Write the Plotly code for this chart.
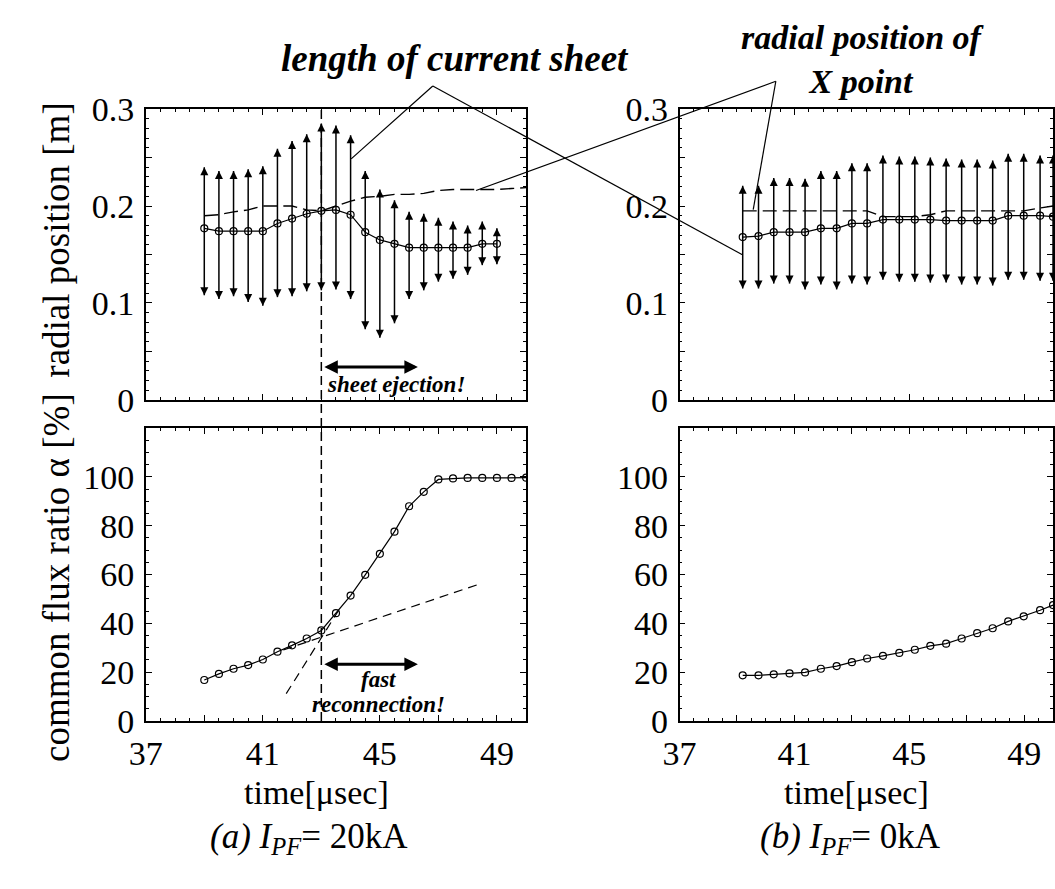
import plotly.graph_objects as go

W, H = 1055, 889
FONT = "Liberation Serif"

# ---------------- data ----------------
# (a) I_PF = 20 kA : radial position panel
time_a_top = [39.0, 39.5, 40.0, 40.5, 41.0, 41.5, 42.0, 42.5, 43.0, 43.5, 44.0,
              44.5, 45.0, 45.5, 46.0, 46.5, 47.0, 47.5, 48.0, 48.5, 49.0]
sheet_center_a = [0.177, 0.174, 0.174, 0.174, 0.174, 0.182, 0.187, 0.192, 0.195, 0.196, 0.191,
                  0.173, 0.165, 0.161, 0.157, 0.157, 0.157, 0.157, 0.157, 0.161, 0.161]
sheet_top_a = [0.240, 0.236, 0.236, 0.238, 0.241, 0.259, 0.267, 0.274, 0.285, 0.283, 0.273,
               0.236, 0.217, 0.206, 0.194, 0.192, 0.188, 0.184, 0.180, 0.184, 0.177]
sheet_bot_a = [0.108, 0.104, 0.107, 0.101, 0.097, 0.106, 0.107, 0.112, 0.113, 0.114, 0.104,
               0.073, 0.064, 0.079, 0.104, 0.113, 0.122, 0.125, 0.129, 0.139, 0.140]
xpoint_time_a = [39.0, 39.5, 40.0, 40.5, 41.0, 41.5, 42.0, 42.5, 43.0, 43.5, 44.0, 44.5,
                 45.0, 45.5, 46.0, 46.5, 47.0, 47.5, 48.0, 48.5, 49.0, 49.5, 50.0]
xpoint_a = [0.190, 0.191, 0.194, 0.196, 0.200, 0.200, 0.200, 0.196, 0.195, 0.200, 0.205, 0.209,
            0.210, 0.212, 0.212, 0.213, 0.216, 0.217, 0.217, 0.217, 0.217, 0.218, 0.219]

# (a) common flux ratio
time_a_bot = [39.0, 39.5, 40.0, 40.5, 41.0, 41.5, 42.0, 42.5, 43.0, 43.5, 44.0, 44.5,
              45.0, 45.5, 46.0, 46.5, 47.0, 47.5, 48.0, 48.5, 49.0, 49.5, 50.0]
alpha_a = [16.8, 19.3, 21.4, 22.9, 25.2, 28.4, 31.0, 33.8, 37.1, 44.2, 51.4, 59.9,
           68.5, 77.6, 88.0, 93.9, 99.0, 99.4, 99.6, 99.6, 99.6, 99.6, 99.7]
slow_fit_t = [41.7, 48.5]
slow_fit = [29.1, 56.5]
fast_fit_t = [41.8, 43.6]
fast_fit = [11.2, 45.5]
ejection_time = 43.0

# (b) I_PF = 0 kA (times read against the printed 37/41/45/49 labels)
time_b = [39.20, 39.75, 40.28, 40.83, 41.37, 41.92, 42.47, 43.00, 43.53, 44.08, 44.65,
          45.19, 45.73, 46.28, 46.82, 47.36, 47.90, 48.44, 48.98, 49.55, 50.00]
sheet_center_b = [0.168, 0.169, 0.173, 0.173, 0.173, 0.177, 0.177, 0.182, 0.182, 0.186, 0.186,
                  0.186, 0.186, 0.185, 0.185, 0.185, 0.185, 0.190, 0.190, 0.190, 0.189]
sheet_top_b = [0.221, 0.221, 0.229, 0.229, 0.228, 0.236, 0.236, 0.244, 0.244, 0.252, 0.251,
               0.251, 0.250, 0.249, 0.248, 0.248, 0.247, 0.254, 0.254, 0.252, 0.252]
sheet_bot_b = [0.115, 0.115, 0.120, 0.120, 0.114, 0.119, 0.114, 0.120, 0.119, 0.124, 0.122,
               0.122, 0.121, 0.121, 0.119, 0.119, 0.118, 0.124, 0.124, 0.123, 0.123]
xpoint_b = [0.195, 0.195, 0.195, 0.195, 0.195, 0.195, 0.195, 0.195, 0.195, 0.189, 0.189,
            0.189, 0.191, 0.195, 0.195, 0.195, 0.195, 0.195, 0.195, 0.198, 0.200]
alpha_b = [18.7, 18.7, 19.1, 19.5, 19.9, 21.4, 22.5, 24.1, 25.6, 26.7, 27.9,
           29.2, 30.8, 31.7, 33.8, 36.0, 38.0, 40.8, 42.9, 45.4, 47.5]

# tick labels
x_tickvals = [37, 39, 41, 43, 45, 47, 49]
x_ticktext = ["37", "", "41", "", "45", "", "49"]
r_tickvals = [0, 0.05, 0.1, 0.15, 0.2, 0.25, 0.3]
r_ticktext = ["0", "", "0.1", "", "0.2", "", "0.3"]
a_tickvals = [0, 20, 40, 60, 80, 100]
a_ticktext = ["0", "20", "40", "60", "80", "100"]

# ---------------- helpers (layout geometry, pixels -> paper) ----------------
def px(x):
    return x / W


def py(y):
    return 1 - y / H


def segments(t, lo, hi):
    xs, ys = [], []
    for ti, l, h in zip(t, lo, hi):
        xs += [ti, ti, None]
        ys += [l, h, None]
    return xs, ys


fig = go.Figure()


def sheet_panel(t, center, top, bot, xp_t, xp, xa, ya):
    sx, sy = segments(t, bot, top)
    fig.add_trace(go.Scatter(x=sx, y=sy, mode="lines", line=dict(color="black", width=1.5),
                             xaxis=xa, yaxis=ya, showlegend=False, hoverinfo="skip"))
    fig.add_trace(go.Scatter(x=t, y=top, mode="markers",
                             marker=dict(symbol="arrow-up", size=8, color="black"),
                             xaxis=xa, yaxis=ya, showlegend=False))
    fig.add_trace(go.Scatter(x=t, y=bot, mode="markers",
                             marker=dict(symbol="arrow-down", size=8, color="black"),
                             xaxis=xa, yaxis=ya, showlegend=False))
    fig.add_trace(go.Scatter(x=xp_t, y=xp, mode="lines",
                             line=dict(color="black", width=1.4, dash="14px,6px"),
                             xaxis=xa, yaxis=ya, showlegend=False))
    fig.add_trace(go.Scatter(x=t, y=center, mode="lines+markers",
                             line=dict(color="black", width=1.2),
                             marker=dict(symbol="circle-open", size=7, color="black",
                                         line=dict(width=1.2)),
                             xaxis=xa, yaxis=ya, showlegend=False))


sheet_panel(time_a_top, sheet_center_a, sheet_top_a, sheet_bot_a, xpoint_time_a, xpoint_a, "x", "y")
sheet_panel(time_b, sheet_center_b, sheet_top_b, sheet_bot_b, time_b, xpoint_b, "x2", "y2")

# flux ratio panels
for tt, yy in [(slow_fit_t, slow_fit), (fast_fit_t, fast_fit)]:
    fig.add_trace(go.Scatter(x=tt, y=yy, mode="lines",
                             line=dict(color="black", width=1.2, dash="9px,6px"),
                             xaxis="x3", yaxis="y3", showlegend=False))
fig.add_trace(go.Scatter(x=time_a_bot, y=alpha_a, mode="lines+markers",
                         line=dict(color="black", width=1.2),
                         marker=dict(symbol="circle-open", size=7, color="black", line=dict(width=1.2)),
                         xaxis="x3", yaxis="y3", showlegend=False))
fig.add_trace(go.Scatter(x=time_b, y=alpha_b, mode="lines+markers",
                         line=dict(color="black", width=1.2),
                         marker=dict(symbol="circle-open", size=7, color="black", line=dict(width=1.2)),
                         xaxis="x4", yaxis="y4", showlegend=False))

# ---------------- axes ----------------
xL = [px(131), px(518)]
xR = [px(674), px(1054)]
yT = [py(398.5), py(95)]
yB = [py(733.5), py(428)]


def axis(domain, rng, anchor, tv, tt, minor_dtick, minor_tick0, labels=True, standoff=3):
    return dict(domain=domain, range=rng, anchor=anchor, showline=True, linecolor="black",
                linewidth=1.5, mirror="allticks", ticks="inside", ticklen=6, tickwidth=1.2,
                tickcolor="black", showgrid=False, zeroline=False, tickmode="array",
                tickvals=tv, ticktext=tt, showticklabels=labels, ticklabelstandoff=standoff,
                ticklabeloverflow="allow",
                tickfont=dict(family=FONT, size=34, color="black"),
                minor=dict(ticks="inside", ticklen=3, tickwidth=1, tickcolor="black",
                           tickmode="linear", tick0=minor_tick0, dtick=minor_dtick, showgrid=False))


fig.update_layout(
    width=W, height=H, margin=dict(l=0, r=0, t=0, b=0),
    paper_bgcolor="white", plot_bgcolor="white", showlegend=False,
    xaxis=axis(xL, [37, 50], "y", x_tickvals, x_ticktext, 0.5, 37, labels=False),
    yaxis=axis(yT, [0, 0.3], "x", r_tickvals, r_ticktext, 0.01, 0),
    xaxis2=axis(xR, [37, 50], "y2", x_tickvals, x_ticktext, 0.5, 37, labels=False),
    yaxis2=axis(yT, [0, 0.3], "x2", r_tickvals, r_ticktext, 0.01, 0),
    xaxis3=axis(xL, [37, 50], "y3", x_tickvals, x_ticktext, 0.5, 37, standoff=1),
    yaxis3=axis(yB, [0, 120], "x3", a_tickvals, a_ticktext, 5, 0),
    xaxis4=axis(xR, [37, 50], "y4", x_tickvals, x_ticktext, 0.5, 37, standoff=1),
    yaxis4=axis(yB, [0, 120], "x4", a_tickvals, a_ticktext, 5, 0),
)

# vertical dashed line at the onset of ejection (spans both left panels)
fig.add_shape(type="line", xref="x", yref="paper", x0=ejection_time, x1=ejection_time,
              y0=yB[0], y1=yT[1], line=dict(color="black", width=1.5, dash="9px,5px"))

# leader lines for the labels
leaders = [((423, 71), (340, 147)), ((423, 71), (738, 247)),
           ((772, 66), (467, 180)), ((772, 66), (749, 200))]
for (x0, y0), (x1, y1) in leaders:
    fig.add_shape(type="line", xref="paper", yref="paper", x0=px(x0), y0=py(y0),
                  x1=px(x1), y1=py(y1), line=dict(color="black", width=1.2))

ann = []


def text(x, y, s, size, **kw):
    ann.append(dict(xref="paper", yref="paper", x=px(x), y=py(y), text=s, showarrow=False,
                    xanchor="center", yanchor="middle",
                    font=dict(family=FONT, size=size, color="black"), **kw))


text(446, 42, "<b><i>length of current sheet</i></b>", 37)
text(861, 43, "<b><i>radial position of<br>X point</i></b>", 34)
text(40, 232, "radial position [m]", 37, textangle=-90)
text(40, 584, "common flux ratio \u03b1 [%]", 37, textangle=-90)
text(305, 808, "time[\u03bcsec]", 34)
text(854, 808, "time[\u03bcsec]", 34)
text(297, 856, "<i>(a) I<sub>PF</sub></i>= 20kA", 35)
text(848, 856, "<i>(b) I<sub>PF</sub></i>= 0kA", 35)

# double-headed arrows
ann.append(dict(xref="x", yref="y", axref="x", ayref="y", x=46.3, y=0.034, ax=43.05, ay=0.034,
                text="", showarrow=True, arrowside="end+start", arrowhead=2, arrowwidth=3,
                arrowsize=0.9, arrowcolor="black", standoff=0, startstandoff=0))
ann.append(dict(xref="x", yref="y", x=45.55, y=0.0157, text="<b><i>sheet ejection!</i></b>",
                showarrow=False, font=dict(family=FONT, size=23, color="black")))
ann.append(dict(xref="x3", yref="y3", axref="x3", ayref="y3", x=46.3, y=23.3, ax=43.05, ay=23.3,
                text="", showarrow=True, arrowside="end+start", arrowhead=2, arrowwidth=3,
                arrowsize=0.9, arrowcolor="black", standoff=0, startstandoff=0))
ann.append(dict(xref="x3", yref="y3", x=44.95, y=16.8, text="<b><i>fast</i></b>",
                showarrow=False, font=dict(family=FONT, size=23, color="black")))
ann.append(dict(xref="x3", yref="y3", x=44.95, y=6.9, text="<b><i>reconnection!</i></b>",
                showarrow=False, font=dict(family=FONT, size=23, color="black")))

fig.update_layout(annotations=ann)

fig.write_html("out.html", config={"displayModeBar": False},
               post_script="document.body.style.margin='0px';document.body.style.overflow='hidden';")
